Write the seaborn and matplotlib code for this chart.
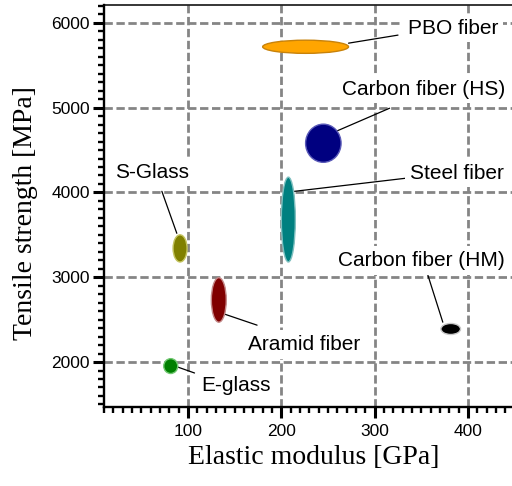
import matplotlib
matplotlib.use("Agg")
import matplotlib.pyplot as plt
from matplotlib.patches import Ellipse
from matplotlib.ticker import MultipleLocator
import seaborn as sns
import pandas as pd

# Fibre property ranges: elastic modulus [GPa] and tensile strength [MPa]
fibers = ["PBO fiber", "Carbon fiber (HS)", "Steel fiber", "S-Glass",
          "Aramid fiber", "E-glass", "Carbon fiber (HM)"]
modulus_min = [180, 226, 200, 84, 125, 74, 371]
modulus_max = [272, 264, 215, 99, 141, 89, 392]
strength_min = [5640, 4355, 3180, 3180, 2470, 1865, 2325]
strength_max = [5795, 4805, 4180, 3500, 2995, 2040, 2455]

x_ticks = [100, 200, 300, 400]
y_ticks = [2000, 3000, 4000, 5000, 6000]

df = pd.DataFrame({
    "fiber": fibers,
    "emin": modulus_min, "emax": modulus_max,
    "smin": strength_min, "smax": strength_max,
})
df["E"] = (df["emin"] + df["emax"]) / 2
df["S"] = (df["smin"] + df["smax"]) / 2

# Fill / edge colours per fibre
styles = {
    "PBO fiber": ("#FFA500", "#C8820A"),
    "Carbon fiber (HS)": ("#000080", "#5A5AB8"),
    "Steel fiber": ("#008080", "#80C0C0"),
    "S-Glass": ("#808000", "#C4C460"),
    "Aramid fiber": ("#800000", "#C48888"),
    "E-glass": ("#008000", "#70C870"),
    "Carbon fiber (HM)": ("#000000", "#C8C8C8"),
}

# Label placement (text anchor, leader-line start, leader-line end) in data units
layout = {
    "PBO fiber": ((336, 5937), (272, 5760), (325, 5855)),
    "Carbon fiber (HS)": ((265, 5218), (259, 4722), (316, 4993)),
    "Steel fiber": ((338, 4228), (214, 4013), (333, 4167)),
    "S-Glass": ((22, 4240), (72, 4013), (88, 3518)),
    "Carbon fiber (HM)": ((261, 3200), (357, 3025), (373, 2470)),
    "Aramid fiber": ((164, 2210), (136, 2577), (174, 2435)),
    "E-glass": ((114, 1727), (89, 1941), (107, 1871)),
}

sns.set_style("ticks")
plt.rcParams["font.family"] = ["Liberation Sans", "DejaVu Sans"]
plt.rcParams.update({"text.color": "black", "axes.labelcolor": "black",
                     "xtick.color": "black", "ytick.color": "black"})

fig = plt.figure(figsize=(5.12, 4.86), dpi=100)
ax = fig.add_axes([104 / 512, 79 / 486, 420 / 512, 402 / 486])

ax.set_xlim(10, 460)
ax.set_ylim(1470, 6210)

for _, r in df.iterrows():
    face, edge = styles[r["fiber"]]
    ax.add_patch(Ellipse((r["E"], r["S"]), r["emax"] - r["emin"], r["smax"] - r["smin"],
                         facecolor=face, edgecolor=edge, linewidth=1.0, zorder=4))

for name, (txt, p0, p1) in layout.items():
    ax.plot([p0[0], p1[0]], [p0[1], p1[1]], color="black", lw=0.9, zorder=3)
    ax.text(txt[0], txt[1], name, ha="left", va="center", fontsize=15,
            color="black", family=["Liberation Sans", "DejaVu Sans"], zorder=5,
            bbox=dict(facecolor="white", edgecolor="none", pad=3.5))

ax.set_xticks(x_ticks)
ax.set_yticks(y_ticks)
ax.xaxis.set_minor_locator(MultipleLocator(10))
ax.yaxis.set_minor_locator(MultipleLocator(100))
ax.tick_params(which="major", direction="out", length=8, width=2.2,
               labelsize=12.5, color="black", labelcolor="black", pad=2)
ax.tick_params(which="minor", direction="out", length=4.5, width=1.7, color="black")
ax.tick_params(axis="x", which="major", pad=4)

ax.grid(True, which="major", color="#858585", linewidth=2.0,
        linestyle=(0, (3.0, 1.3)), zorder=1)
ax.set_axisbelow(True)

for side in ["left", "bottom"]:
    ax.spines[side].set_linewidth(1.7)
    ax.spines[side].set_color("black")
ax.spines["top"].set_linewidth(1.1)
ax.spines["top"].set_color("black")
ax.spines["right"].set_visible(False)

serif = ["Liberation Serif", "DejaVu Serif"]
ax.set_xlabel("Elastic modulus [GPa]", fontsize=20, family=serif, color="black")
ax.set_ylabel("Tensile strength [MPa]", fontsize=20, family=serif, color="black")
ax.xaxis.set_label_coords(0.5, -0.095)
ax.yaxis.set_label_coords(-0.158, 0.483)

fig.savefig("out.png", dpi=100)
